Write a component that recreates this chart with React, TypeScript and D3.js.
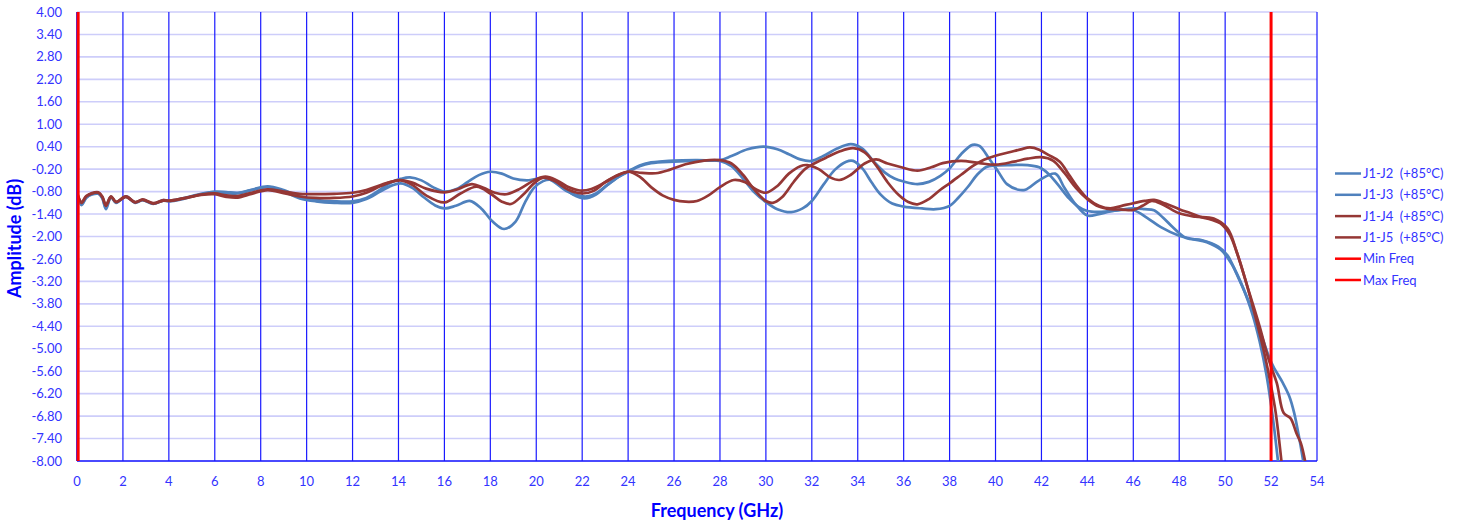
import React from 'react';
import * as d3 from 'd3';

// ---------------- data ----------------
const xTickValues = [0, 2, 4, 6, 8, 10, 12, 14, 16, 18, 20, 22, 24, 26, 28, 30, 32, 34, 36, 38, 40, 42, 44, 46, 48, 50, 52, 54];
const yTickLabels = ['-8.00', '-7.40', '-6.80', '-6.20', '-5.60', '-5.00', '-4.40', '-3.80', '-3.20', '-2.60', '-2.00', '-1.40', '-0.80', '-0.20', '0.40', '1.00', '1.60', '2.20', '2.80', '3.40', '4.00'];

const seriesNames = ['J1-J2  (+85°C)', 'J1-J3  (+85°C)', 'J1-J4  (+85°C)', 'J1-J5  (+85°C)'];

const j1j2: [number, number][] = [[0,-0.88],[0.2,-1.16],[0.4,-0.97],[0.65,-0.88],[0.93,-0.86],[1.1,-0.98],[1.26,-1.27],[1.48,-0.95],[1.7,-1.1],[2.13,-0.94],[2.53,-1.1],[2.86,-1.03],[3.32,-1.13],[3.76,-1.04],[4,-1.06],[4.6,-1.0],[5.4,-0.87],[6,-0.82],[6.5,-0.84],[7,-0.85],[7.6,-0.76],[8.3,-0.68],[9,-0.8],[9.7,-0.98],[10.4,-1.06],[11.2,-1.1],[12,-1.1],[12.6,-1.0],[13.2,-0.8],[13.7,-0.64],[14.1,-0.58],[14.6,-0.7],[15.1,-0.95],[15.6,-1.17],[16,-1.25],[16.5,-1.18],[17.1,-1.05],[17.6,-1.25],[18.1,-1.6],[18.6,-1.8],[19.1,-1.6],[19.5,-1.1],[19.9,-0.7],[20.3,-0.52],[20.6,-0.48],[21.1,-0.65],[21.6,-0.88],[22.1,-0.98],[22.6,-0.88],[23.1,-0.62],[23.6,-0.4],[24,-0.27],[24.5,-0.12],[25,-0.04],[26,0.0],[27,0.02],[28,0.02],[28.5,-0.12],[29,-0.45],[29.5,-0.82],[30,-1.08],[30.5,-1.27],[31.1,-1.35],[31.6,-1.25],[32,-1.05],[32.5,-0.62],[33,-0.22],[33.5,0.0],[33.8,0.02],[34.2,-0.18],[34.6,-0.55],[35,-0.88],[35.5,-1.12],[36,-1.2],[36.8,-1.25],[37.4,-1.27],[38,-1.18],[38.4,-0.95],[38.8,-0.67],[39.2,-0.35],[39.6,-0.14],[40,-0.1],[40.7,-0.09],[41.4,-0.09],[41.9,-0.15],[42.3,-0.32],[42.7,-0.6],[43.2,-0.98],[43.6,-1.2],[44,-1.32],[44.6,-1.34],[45.3,-1.3],[46,-1.29],[46.6,-1.5],[47.2,-1.75],[48,-1.98],[48.6,-2.07],[49.2,-2.15],[49.8,-2.35],[50.3,-2.75],[50.8,-3.4],[51.2,-4.1],[51.5,-4.8],[51.8,-5.7],[52,-6.5],[52.15,-7.2],[52.3,-8]];

const j1j3: [number, number][] = [[0,-0.86],[0.2,-1.13],[0.4,-0.95],[0.65,-0.86],[0.93,-0.84],[1.1,-0.96],[1.26,-1.22],[1.48,-0.94],[1.7,-1.09],[2.13,-0.93],[2.53,-1.09],[2.86,-1.02],[3.32,-1.12],[3.76,-1.03],[4,-1.05],[4.6,-0.98],[5.4,-0.86],[6,-0.8],[6.5,-0.81],[7,-0.83],[7.6,-0.75],[8.3,-0.66],[9,-0.76],[9.7,-0.93],[10.4,-1.02],[11.2,-1.06],[12,-1.06],[12.6,-0.97],[13.2,-0.75],[13.7,-0.55],[14.1,-0.46],[14.5,-0.42],[15,-0.5],[15.5,-0.68],[16,-0.8],[16.5,-0.74],[17,-0.55],[17.5,-0.36],[18,-0.27],[18.5,-0.32],[19,-0.45],[19.6,-0.5],[20.4,-0.43],[20.8,-0.55],[21.3,-0.78],[21.8,-0.9],[22.2,-0.93],[22.6,-0.85],[23.1,-0.62],[23.6,-0.4],[24,-0.26],[24.5,-0.1],[25,-0.02],[25.5,0.01],[26,0.03],[27,0.04],[28,0.04],[28.5,0.15],[29.2,0.33],[29.9,0.4],[30.5,0.33],[31,0.2],[31.5,0.06],[32,0.02],[32.5,0.15],[33.1,0.35],[33.7,0.47],[34.2,0.35],[34.7,0.0],[35.2,-0.3],[35.6,-0.45],[36,-0.53],[36.6,-0.6],[37.1,-0.54],[37.6,-0.38],[38,-0.18],[38.5,0.2],[39,0.45],[39.3,0.42],[39.7,0.1],[40.1,-0.25],[40.5,-0.6],[41,-0.75],[41.3,-0.75],[41.9,-0.5],[42.6,-0.32],[43,-0.7],[43.5,-1.15],[44,-1.44],[44.5,-1.4],[45,-1.33],[46,-1.25],[46.5,-1.27],[46.9,-1.3],[47.3,-1.5],[47.7,-1.74],[48.3,-2.04],[49,-2.1],[49.7,-2.27],[50.1,-2.5],[50.5,-3.0],[51,-3.7],[51.5,-4.5],[51.9,-5.2],[52.1,-5.48],[52.5,-5.9],[52.8,-6.28],[53.0,-6.7],[53.2,-7.3],[53.4,-8]];

const j1j4: [number, number][] = [[0,-0.82],[0.2,-1.08],[0.4,-0.92],[0.65,-0.84],[0.93,-0.82],[1.1,-0.93],[1.26,-1.15],[1.48,-0.93],[1.7,-1.07],[2.13,-0.93],[2.53,-1.08],[2.86,-1.01],[3.32,-1.11],[3.76,-1.03],[4,-1.04],[4.6,-0.98],[5.4,-0.88],[6,-0.85],[6.5,-0.9],[7,-0.92],[7.6,-0.83],[8.3,-0.74],[9,-0.8],[9.7,-0.86],[10.4,-0.87],[11.2,-0.86],[12,-0.83],[12.6,-0.76],[13.2,-0.63],[13.7,-0.53],[14.1,-0.49],[14.6,-0.56],[15.2,-0.72],[16,-0.82],[16.6,-0.73],[17.2,-0.6],[17.7,-0.7],[18.2,-0.83],[18.7,-0.87],[19.3,-0.72],[19.9,-0.5],[20.4,-0.4],[20.9,-0.5],[21.4,-0.68],[21.9,-0.77],[22.4,-0.73],[23,-0.55],[23.5,-0.38],[24,-0.27],[24.6,-0.3],[25.2,-0.31],[25.8,-0.22],[26.5,-0.07],[27.3,0.03],[28,0.04],[28.5,-0.05],[29,-0.35],[29.5,-0.75],[30,-1.05],[30.3,-1.1],[30.7,-0.95],[31.2,-0.55],[31.7,-0.2],[32.1,-0.05],[32.6,0.1],[33.2,0.27],[33.8,0.36],[34.3,0.25],[34.8,-0.1],[35.3,-0.55],[35.8,-0.9],[36.2,-1.08],[36.6,-1.14],[37.1,-1.0],[37.6,-0.75],[38,-0.58],[38.5,-0.35],[39,-0.12],[39.5,0.05],[40,0.16],[40.6,0.25],[41.1,0.33],[41.5,0.38],[41.9,0.32],[42.3,0.18],[42.8,0.0],[43.2,-0.35],[43.6,-0.7],[44,-0.98],[44.5,-1.18],[45,-1.25],[45.5,-1.18],[46,-1.11],[46.5,-1.05],[46.9,-1.02],[47.4,-1.12],[48,-1.27],[48.5,-1.38],[48.9,-1.47],[49.4,-1.55],[49.8,-1.65],[50.2,-1.95],[50.6,-2.6],[51,-3.4],[51.5,-4.4],[51.9,-5.3],[52.25,-5.92],[52.55,-6.72],[52.85,-6.86],[53.1,-7.25],[53.3,-7.53],[53.48,-8]];

const j1j5: [number, number][] = [[0,-0.82],[0.2,-1.1],[0.4,-0.93],[0.65,-0.85],[0.93,-0.83],[1.1,-0.94],[1.26,-1.18],[1.48,-0.94],[1.7,-1.08],[2.13,-0.94],[2.53,-1.09],[2.86,-1.02],[3.32,-1.12],[3.76,-1.04],[4,-1.05],[4.6,-0.99],[5.4,-0.89],[6,-0.87],[6.5,-0.94],[7,-0.96],[7.6,-0.86],[8.3,-0.76],[9,-0.84],[9.7,-0.93],[10.4,-0.97],[11.2,-0.97],[12,-0.93],[12.6,-0.83],[13.2,-0.66],[13.7,-0.54],[14.1,-0.5],[14.6,-0.62],[15.2,-0.9],[16,-1.09],[16.7,-0.85],[17.4,-0.67],[18,-0.85],[18.5,-1.07],[18.9,-1.13],[19.4,-0.9],[19.9,-0.58],[20.3,-0.43],[20.8,-0.52],[21.4,-0.75],[22,-0.85],[22.5,-0.78],[23,-0.55],[23.5,-0.37],[24,-0.27],[24.5,-0.4],[25,-0.68],[25.5,-0.9],[26,-1.02],[26.5,-1.07],[27,-1.05],[27.5,-0.9],[28,-0.68],[28.6,-0.49],[29.1,-0.55],[29.6,-0.75],[30,-0.83],[30.5,-0.65],[31,-0.32],[31.5,-0.12],[31.8,-0.09],[32.3,-0.2],[32.8,-0.42],[33.2,-0.49],[33.7,-0.35],[34.3,-0.05],[34.8,0.06],[35.3,-0.05],[35.9,-0.15],[36.6,-0.24],[37.2,-0.15],[37.7,-0.04],[38.5,0.02],[39.3,-0.04],[40,-0.08],[40.8,0.0],[41.4,0.08],[42,0.12],[42.5,0.03],[43,-0.3],[43.5,-0.7],[44,-1.0],[44.5,-1.2],[45,-1.27],[45.5,-1.28],[46,-1.29],[46.4,-1.18],[46.8,-1.05],[47.3,-1.15],[48,-1.38],[48.7,-1.47],[49.5,-1.52],[50.1,-1.78],[50.5,-2.4],[50.9,-3.2],[51.3,-4.1],[51.7,-5.1],[52,-6.0],[52.2,-6.7],[52.45,-8]];

const minFreq = 0.05;
const maxFreq = 52;

// ---------------- layout / style ----------------
const W = 1459;
const H = 523;
const plot = { left: 77, right: 1317, top: 12, bottom: 461 };
const FONT = 'Lato, "Open Sans", "Liberation Sans", sans-serif';
const BLUE_TEXT = '#3333ff';
const SERIES_BLUE = '#4f81bd';
const SERIES_RED = '#953735';

const seriesData = [j1j2, j1j3, j1j4, j1j5];
const seriesColor = [SERIES_BLUE, SERIES_BLUE, SERIES_RED, SERIES_RED];

export default function App() {
  const x = d3.scaleLinear().domain([0, 54]).range([plot.left, plot.right]);
  const y = d3.scaleLinear().domain([-8, 4]).range([plot.bottom, plot.top]);
  const line = d3
    .line<[number, number]>()
    .x((d) => x(d[0]))
    .y((d) => y(d[1]))
    .curve(d3.curveCatmullRom.alpha(0.5));

  const legendItems = [
    ...seriesNames.map((n, i) => ({ name: n, color: seriesColor[i] })),
    { name: 'Min Freq', color: '#ff0000' },
    { name: 'Max Freq', color: '#ff0000' },
  ];

  return (
    <svg
      width={W}
      height={H}
      style={{ position: 'absolute', left: 0, top: 0, background: '#fff' }}
      fontFamily={FONT}
    >
      <defs>
        <clipPath id="plotClip">
          <rect x={plot.left} y={plot.top - 2} width={plot.right - plot.left} height={plot.bottom - plot.top + 2} />
        </clipPath>
      </defs>
      <rect x={0} y={0} width={W} height={H} fill="#fff" />

      {/* horizontal gridlines */}
      {yTickLabels.map((t) => (
        <line
          key={'hg' + t}
          x1={plot.left}
          x2={plot.right}
          y1={y(+t)}
          y2={y(+t)}
          stroke="#cdcdfa"
          strokeWidth={1.6}
        />
      ))}
      {/* vertical gridlines */}
      {xTickValues.map((t) => (
        <line
          key={'vg' + t}
          x1={x(t)}
          x2={x(t)}
          y1={plot.top}
          y2={plot.bottom}
          stroke="#1a1aff"
          strokeWidth={1.2}
        />
      ))}
      {/* axes */}
      <line x1={plot.left} x2={plot.right} y1={plot.bottom} y2={plot.bottom} stroke="#1a1aff" strokeWidth={1.5} />
      <line x1={plot.left} x2={plot.left} y1={plot.top} y2={plot.bottom} stroke="#1a1aff" strokeWidth={1.5} />

      {/* series */}
      <g clipPath="url(#plotClip)">
        {seriesData.map((d, i) => (
          <path
            key={'s' + i}
            d={line(d) || ''}
            fill="none"
            stroke={seriesColor[i]}
            strokeWidth={2.7}
            strokeLinejoin="round"
            strokeLinecap="round"
          />
        ))}
      </g>

      {/* min / max freq markers */}
      <line x1={x(minFreq)} x2={x(minFreq)} y1={plot.top} y2={plot.bottom} stroke="#ff0000" strokeWidth={3} />
      <line x1={x(maxFreq)} x2={x(maxFreq)} y1={plot.top} y2={plot.bottom} stroke="#ff0000" strokeWidth={3} />

      {/* y tick labels */}
      {yTickLabels.map((t) => (
        <text
          key={'yl' + t}
          x={plot.left - 15}
          y={y(+t)}
          dy="0.35em"
          textAnchor="end"
          fontSize={13}
          fill={BLUE_TEXT}
        >
          {t}
        </text>
      ))}
      {/* x tick labels */}
      {xTickValues.map((t) => (
        <text key={'xl' + t} x={x(t)} y={486} textAnchor="middle" fontSize={13} fill={BLUE_TEXT}>
          {t}
        </text>
      ))}

      {/* axis titles */}
      <text x={717} y={517} textAnchor="middle" fontSize={18} fontWeight="bold" fill="#0000ff">
        Frequency (GHz)
      </text>
      <text
        transform={`translate(21, ${(plot.top + plot.bottom) / 2 + 2}) rotate(-90)`}
        textAnchor="middle"
        fontSize={18}
        fontWeight="bold"
        fill="#0000ff"
      >
        Amplitude (dB)
      </text>

      {/* legend */}
      {legendItems.map((it, i) => {
        const ly = 173.5 + i * 21.3;
        return (
          <g key={'lg' + i}>
            <line x1={1335} x2={1361} y1={ly} y2={ly} stroke={it.color} strokeWidth={2.5} />
            <text x={1363} y={ly} dy="0.35em" fontSize={13} fill={BLUE_TEXT} style={{ whiteSpace: 'pre' }}>
              {it.name}
            </text>
          </g>
        );
      })}
    </svg>
  );
}
